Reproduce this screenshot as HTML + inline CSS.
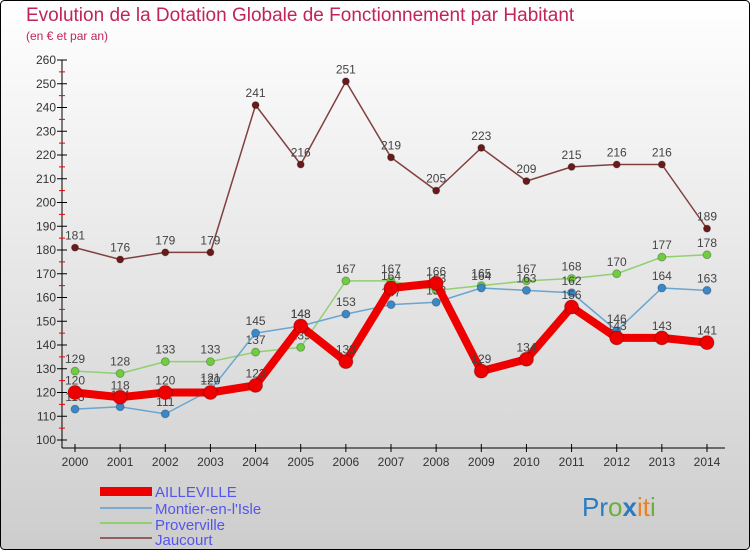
<!DOCTYPE html>
<html><head><meta charset="utf-8"><style>
body{margin:0;width:750px;height:550px;overflow:hidden;font-family:"Liberation Sans",sans-serif}
svg text{font-family:"Liberation Sans",sans-serif}
</style></head><body>
<svg id="chart" width="750" height="550" xmlns="http://www.w3.org/2000/svg">
<defs><linearGradient id="bg" x1="0" y1="0" x2="0" y2="1"><stop offset="0" stop-color="#ffffff"/><stop offset="1" stop-color="#cdcdcd"/></linearGradient></defs>
<rect x="0.5" y="0.5" width="749" height="549" rx="4" fill="url(#bg)" stroke="#000"/>
<text x="26" y="21" font-size="19" fill="#c0245a">Evolution de la Dotation Globale de Fonctionnement par Habitant</text>
<text x="26" y="40" font-size="12" fill="#c0245a">(en € et par an)</text>
<g id="axes"></g><g id="series"></g>
<g font-size="15" fill="#5555ee">
<rect x="100" y="487" width="52" height="9" fill="#e00"/>
<text x="155" y="497">AILLEVILLE</text>
<rect x="100" y="507" width="52" height="2" fill="#7aaad0"/>
<text x="155" y="514">Montier-en-l'Isle</text>
<rect x="100" y="522" width="52" height="2" fill="#90d070"/>
<text x="155" y="530">Proverville</text>
<rect x="100" y="537" width="52" height="2" fill="#906060"/>
<text x="155" y="545">Jaucourt</text>
</g>
<text x="582" y="516" font-size="26" font-family="Liberation Sans"><tspan fill="#2b7bc0">Pr</tspan><tspan fill="#6ab03a">o</tspan><tspan fill="#2b7bc0" font-weight="bold">x</tspan><tspan fill="#f08020">it</tspan><tspan fill="#6ab03a">i</tspan></text>
</svg>
<script>
const years=[2000,2001,2002,2003,2004,2005,2006,2007,2008,2009,2010,2011,2012,2013,2014];
const ailleville=[120,118,120,120,123,148,133,164,166,129,134,156,143,143,141];
const montier=[113,114,111,121,145,148,153,157,158,164,163,162,146,164,163];
const proverville=[129,128,133,133,137,139,167,167,163,165,167,168,170,177,178];
const jaucourt=[181,176,179,179,241,216,251,219,205,223,209,215,216,216,189];
const yTicks=[100,110,120,130,140,150,160,170,180,190,200,210,220,230,240,250,260];
const NS='http://www.w3.org/2000/svg';
const x=i=>75+i*(707-75)/(years.length-1);
const y=v=>440-(v-100)*380/160;
function mk(t,a,p){const e=document.createElementNS(NS,t);for(const k in a)e.setAttribute(k,a[k]);p.appendChild(e);return e;}
const ax=document.getElementById('axes');
const yl=mk('line',{x1:62,y1:y(260),x2:62,y2:y(100)+8,stroke:'#000'},ax);


yTicks.forEach(v=>{
 mk('line',{x1:57,x2:67,y1:y(v),y2:y(v),stroke:'#000'},ax);
 if(v<260) mk('line',{x1:59,x2:65,y1:y(v+5),y2:y(v+5),stroke:'#e00'},ax);
 const t=mk('text',{x:56,y:y(v)+4,'font-size':12,'text-anchor':'end',fill:'#333'},ax);
 
 
 t.textContent=v;
});
const xl=mk('line',{x1:62,y1:448,x2:725,y2:448,stroke:'#000'},ax);


years.forEach((yr,i)=>{
 mk('line',{x1:x(i),x2:x(i),y1:444,y2:452,stroke:'#000'},ax);
 const t=mk('text',{x:x(i),y:466,'font-size':12,'text-anchor':'middle',fill:'#333'},ax);
 
 
 t.textContent=yr;
});
const sg=document.getElementById('series');
function series(name,data,line,dot,w,r){
 const g=mk('g',{},sg);
 
 
 const p=mk('polyline',{points:data.map((v,i)=>x(i)+','+y(v)).join(' '),fill:'none',stroke:line,'stroke-width':w,'stroke-linejoin':'round'},g);
 
 
 data.forEach((v,i)=>{
  const c=mk('circle',{cx:x(i),cy:y(v),r:r,fill:dot,stroke:'rgba(0,0,0,0.25)'},g);
  
  
  const t=mk('text',{x:x(i),y:y(v)-8,'font-size':12,'text-anchor':'middle',fill:'#444'},g);
  
  
  t.textContent=v;
 });
}
series('jaucourt',jaucourt,'#804040','#6a1a1a',1.5,3.5);
series('proverville',proverville,'#90d070','#70cc40',1.5,4);
series('montier',montier,'#6aa5d0','#3a88c8',1.5,4);
series('ailleville',ailleville,'#ee0000','#ee0000',8,7);
</script>
</body></html>
